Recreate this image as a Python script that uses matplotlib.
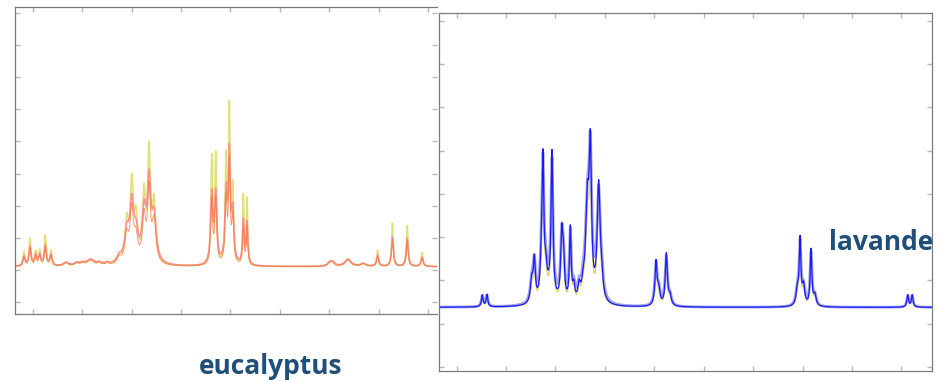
import numpy as np
import matplotlib
matplotlib.use("Agg")
import matplotlib.pyplot as plt

# Peak tables (position on the shift axis, apparent height above baseline, half-width)
euc_pos = [-0.176, -0.055, 0.061, 0.142, 0.255, 0.370,
           0.674, 0.89, 1.01, 1.14, 1.20, 1.34, 1.50, 1.75,
           1.903, 2.004, 2.09, 2.253, 2.354, 2.455,
           3.623, 3.704, 3.913, 3.980, 4.049, 4.263, 4.338,
           6.01, 6.07, 6.38, 6.69, 6.98, 7.28, 7.58, 7.88]
euc_high = [0.45, 0.85, 0.45, 0.48, 0.95, 0.47,
            0.12, 0.10, 0.10, 0.12, 0.12, 0.10, 0.08, 0.25,
            1.30, 2.40, 1.35, 2.10, 3.35, 1.90,
            3.30, 3.35, 3.20, 4.70, 2.30, 2.15, 2.05,
            0.12, 0.12, 0.24, 0.10, 0.50, 1.35, 1.28, 0.44]
euc_low = [0.28, 0.55, 0.30, 0.30, 0.58, 0.32,
           0.10, 0.08, 0.08, 0.10, 0.10, 0.08, 0.06, 0.20,
           0.85, 1.60, 0.75, 1.40, 2.20, 1.30,
           2.00, 2.00, 1.95, 3.05, 1.40, 1.25, 1.20,
           0.10, 0.10, 0.20, 0.08, 0.31, 0.84, 0.81, 0.27]
euc_width = [0.02, 0.02, 0.02, 0.02, 0.02, 0.02,
             0.05, 0.05, 0.05, 0.05, 0.05, 0.05, 0.05, 0.05,
             0.04, 0.035, 0.04, 0.035, 0.03, 0.04,
             0.02, 0.02, 0.02, 0.018, 0.02, 0.015, 0.015,
             0.04, 0.04, 0.06, 0.05, 0.02, 0.018, 0.018, 0.02]
euc_base = 1.10

lav_pos = [0.518, 0.613,
           1.518, 1.571, 1.72, 1.747, 1.80, 1.85, 1.929, 2.126, 2.16, 2.30, 2.37,
           2.48, 2.56, 2.644, 2.705, 2.874, 2.935,
           4.034, 4.09, 4.243, 4.318,
           6.895, 6.95, 7.02, 7.172, 7.25,
           9.13, 9.22]
lav_high = [0.27, 0.28,
            0.50, 0.95, 0.85, 2.80, 0.50, 0.30, 3.30, 1.45, 0.90, 1.70, 0.35,
            0.35, 0.30, 2.20, 3.30, 2.70, 0.40,
            1.00, 0.35, 1.20, 0.22,
            0.35, 1.50, 0.45, 1.30, 0.25,
            0.28, 0.28]
lav_width = [0.02, 0.02,
             0.03, 0.025, 0.03, 0.02, 0.03, 0.12, 0.022, 0.025, 0.025, 0.02, 0.025,
             0.03, 0.03, 0.04, 0.028, 0.035, 0.03,
             0.025, 0.03, 0.025, 0.03,
             0.03, 0.02, 0.03, 0.02, 0.03,
             0.02, 0.02]
lav_base = 1.375

euc_ticks_x = list(range(9))
euc_ticks_y = list(range(10))
lav_ticks_x = list(range(10))
lav_ticks_y = list(range(9))


def spectrum(x, pos, height, width, base, scale=1.0, broaden=1.0):
    y = np.full_like(x, base)
    for c, h, w in zip(pos, height, width):
        g = w * broaden
        y += scale * h / (1.0 + ((x - c) / g) ** 2)
    return y


def style_axes(ax, xt, yt, xlim, ylim, right_spine=True):
    ax.set_xlim(*xlim)
    ax.set_ylim(*ylim)
    ax.set_xticks(xt)
    ax.set_yticks(yt)
    ax.set_xticklabels([])
    ax.set_yticklabels([])
    ax.tick_params(direction="in", length=3.5, width=1.0, color="#b8b8b8",
                   top=True, right=True, bottom=True, left=True)
    for name, sp in ax.spines.items():
        sp.set_color("#7a7a7a")
        sp.set_linewidth(0.9)
    ax.spines["right"].set_visible(right_spine)


fig = plt.figure(figsize=(9.38, 3.81), dpi=100)
fig.patch.set_facecolor("white")

ax1 = fig.add_axes([15 / 938, 1 - 314 / 381, 422 / 938, 307 / 381])
ax2 = fig.add_axes([439.3 / 938, 1 - 370.5 / 381, 492.7 / 938, 358 / 381])

x1 = np.linspace(-0.4, 8.3, 6000)
y_yellow = spectrum(x1, euc_pos, euc_high, euc_width, euc_base)
y_pink = spectrum(x1, euc_pos, euc_low, euc_width, euc_base, scale=1.08, broaden=1.35)
y_orange = spectrum(x1, euc_pos, euc_low, euc_width, euc_base, broaden=1.15)
ax1.plot(x1, y_yellow, color="#e2e07a", lw=1.2)
ax1.plot(x1, y_pink, color="#ff8f8f", lw=1.1)
ax1.plot(x1, y_orange, color="#f07a40", lw=0.7, alpha=0.75)
style_axes(ax1, euc_ticks_x, euc_ticks_y, (-0.358, 8.182), (-0.374, 9.19),
           right_spine=False)

x2 = np.linspace(-0.4, 9.7, 7000)
y_lav_y = spectrum(x2, lav_pos, lav_high, lav_width, lav_base, scale=0.85)
y_lav_g = spectrum(x2, lav_pos, lav_high, lav_width, lav_base, scale=0.93, broaden=1.2)
y_lav_b = spectrum(x2, lav_pos, lav_high, lav_width, lav_base)
ax2.plot(x2, y_lav_y, color="#e0d860", lw=1.0)
ax2.plot(x2, y_lav_g, color="#a4a4e6", lw=2.0)
ax2.plot(x2, y_lav_b, color="#1a1aff", lw=0.9)
style_axes(ax2, lav_ticks_x, lav_ticks_y, (-0.352, 9.621), (-0.085, 8.19))

fig.text(271 / 938, 1 - 374 / 381, "eucalyptus", ha="center", va="baseline",
         fontsize=19, fontweight="bold", color="#1f4e79", family="Open Sans")
fig.text(881 / 938, 1 - 250 / 381, "lavande", ha="center", va="baseline",
         fontsize=19, fontweight="bold", color="#1f4e79", family="Open Sans")

fig.savefig("out.png", dpi=100, facecolor="white")
